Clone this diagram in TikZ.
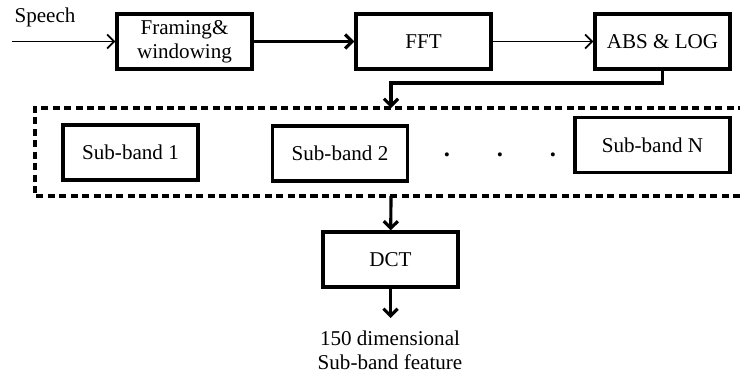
\documentclass[tikz,border=0pt]{standalone}
\usepackage{fontspec}
\setmainfont{Liberation Serif}
\usetikzlibrary{arrows.meta}
\begin{document}
\begin{tikzpicture}[x=0.02cm, y=-0.02cm,
  >={Straight Barb[length=4pt,width=8pt]},
  block/.style={draw, line width=1.8pt, minimum width=2.7cm, minimum height=1.1cm, align=center, inner sep=1pt},
  font=\fontsize{12}{13.5}\selectfont]
\useasboundingbox (0,0) rectangle (740,372);

\node[block] (frame) at (184.5,41.5) {Framing\&\\windowing};
\node[block] (fft) at (423.5,41.5) {FFT};
\node[block] (abs) at (662.5,41.5) {ABS \& LOG};

\node[block] (sub1) at (130.5,152.5) {Sub-band 1};
\node[block] (sub2) at (340,153.5) {Sub-band 2};
\node[block, minimum width=3.1cm] (subN) at (652.5,145) {Sub-band N};
\node[font=\fontsize{14}{14}\selectfont\bfseries] (dot1) at (447,155) {.};
\node[font=\fontsize{14}{14}\selectfont\bfseries] (dot2) at (500,155) {.};
\node[font=\fontsize{14}{14}\selectfont\bfseries] (dot3) at (553,155) {.};

\node[block] (dct) at (390.5,259.5) {DCT};
\node[align=center, inner sep=0pt] (feat) at (390,350) {150 dimensional\\Sub-band feature};

\node (speech) at (45,17) {Speech};
\coordinate (in) at (12,41.5);
\coordinate (bandtop) at (391,108);
\coordinate (bandbot) at (391,196);
\coordinate (out) at (390.5,318);

\path[draw, line width=1.8pt, dashed, dash pattern=on 4pt off 2.5pt] (745,108) -- (35,108) -- (35,196) -- (745,196);

\path[draw,line width=1pt,->] (in) -- (frame);
\path[draw,line width=1.8pt,->] (frame) -- (fft);
\path[draw,line width=1pt,->] (fft) -- (abs);
\path[draw,line width=1.8pt,->] (abs.south) |- (391,83) -- (bandtop);
\path[draw,line width=1.8pt,->] (bandbot) -- (dct);
\path[draw,line width=1.8pt,->] (dct) -- (out);
\end{tikzpicture}
\end{document}
